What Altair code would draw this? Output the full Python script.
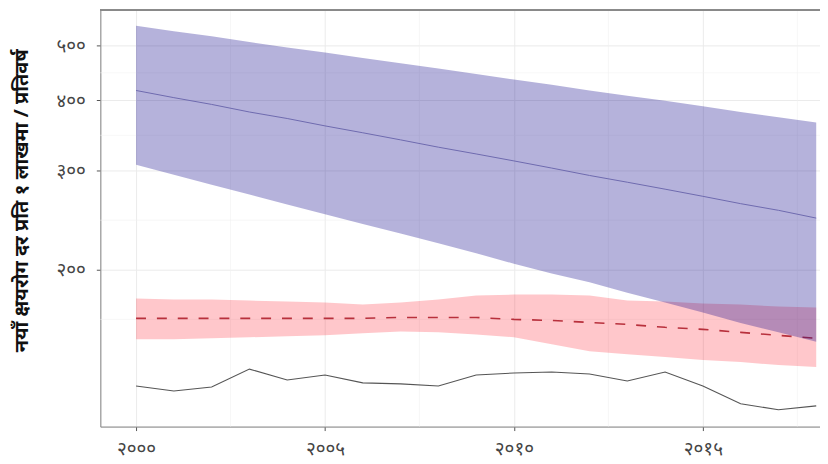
import altair as alt
import pandas as pd

# ---- data ----
years = list(range(2000, 2019))

blue_mid = [416, 404, 393, 381, 371, 360, 350, 340, 330, 321, 312, 303, 294, 286, 278, 270, 262, 255, 247]
blue_hi = [542, 530, 519, 507, 496, 486, 475, 465, 455, 445, 435, 426, 416, 407, 399, 390, 381, 373, 365]
blue_lo = [307, 295, 283, 272, 261, 251, 241, 232, 223, 214, 205, 197, 190, 182, 175, 168, 161, 155, 149]

pink_mid = [164.0, 164.0, 164.0, 164.0, 164.0, 164.0, 164.0, 164.6, 164.6, 164.6, 163.3, 162.6, 161.3,
            160.0, 158.1, 156.8, 154.9, 153.0, 151.2]
pink_hi = [177.8, 177.1, 177.1, 176.4, 175.7, 175.0, 173.5, 175.0, 177.1, 180.0, 180.7, 180.7, 180.0,
           176.4, 175.7, 174.2, 173.5, 172.1, 171.4]
pink_lo = [150.6, 150.6, 151.2, 151.8, 152.4, 153.0, 154.3, 155.5, 154.9, 153.6, 151.8, 147.6, 143.4,
           141.7, 140.0, 138.3, 137.2, 135.5, 134.4]

notified = [124.4, 121.9, 123.9, 133.3, 127.5, 130.1, 126.0, 125.5, 124.4, 130.1, 131.2, 131.7, 130.7,
            127.0, 131.7, 124.4, 115.7, 112.9, 114.7]

x_ticks = [2000, 2005, 2010, 2015]
x_tick_labels = ["२०००", "२००५", "२०१०", "२०१५"]
y_ticks = [200, 300, 400, 500]
y_tick_labels = ["२००", "३००", "४००", "५००"]
x_minor = [2002.5, 2007.5, 2012.5, 2017.5]
y_minor = [163.3, 244.9, 346.4, 447.2]

y_title = "नयाँ क्षयरोग दर प्रति १ लाखमा / प्रतिवर्ष"

# ---- layout ----
W, H = 725, 420
X_DOMAIN = [1999.054, 2018.1]
Y_DOMAIN = [105.4, 578.7]
FONT = "Noto Sans"

df = pd.DataFrame({
    "year": years, "blue_mid": blue_mid, "blue_hi": blue_hi, "blue_lo": blue_lo,
    "pink_mid": pink_mid, "pink_hi": pink_hi, "pink_lo": pink_lo, "notified": notified,
})


def label_expr(vals, labels):
    expr = "''"
    for v, l in reversed(list(zip(vals, labels))):
        expr = f"datum.value == {v} ? '{l}' : ({expr})"
    return expr


xscale = alt.Scale(domain=X_DOMAIN, nice=False, zero=False)
yscale = alt.Scale(type="log", domain=Y_DOMAIN, nice=False, zero=False)

x_axis = alt.Axis(values=x_ticks, labelExpr=label_expr(x_ticks, x_tick_labels), title=None,
                  grid=True, gridColor="#ebebeb", gridWidth=1, domainColor="#8a8a8a", domainWidth=1,
                  tickColor="#555555", tickSize=4, labelPadding=9, labelFontSize=19,
                  labelColor="#444444", labelFont=FONT)
y_axis = alt.Axis(values=y_ticks, labelExpr=label_expr(y_ticks, y_tick_labels), title=y_title,
                  grid=True, gridColor="#ebebeb", gridWidth=1, domainColor="#8a8a8a", domainWidth=1,
                  tickColor="#555555", tickSize=4, labelPadding=11, labelFontSize=19,
                  labelColor="#444444", labelFont=FONT, titleFont=FONT, titleFontSize=20,
                  titleFontWeight="bold", titleColor="#111111", titleX=-79, titleY=192,
                  titleAngle=-90, titleBaseline="middle")

base = alt.Chart(df)

xminor_df = pd.DataFrame({"x": x_minor})
yminor_df = pd.DataFrame({"y": y_minor})

vminor = alt.Chart(xminor_df).mark_rule(color="#f2f2f2", strokeWidth=0.6).encode(
    x=alt.X("x:Q", scale=xscale, axis=x_axis))
hminor = alt.Chart(yminor_df).mark_rule(color="#f2f2f2", strokeWidth=0.6).encode(
    y=alt.Y("y:Q", scale=yscale, axis=y_axis))

pink_band = base.mark_area(color="#ff0010", opacity=0.22).encode(
    x=alt.X("year:Q", scale=xscale, axis=x_axis),
    y=alt.Y("pink_lo:Q", scale=yscale, axis=y_axis),
    y2="pink_hi:Q")
pink_line = base.mark_line(color="#b8303c", strokeWidth=1.6, strokeDash=[10, 11]).encode(
    x=alt.X("year:Q", scale=xscale), y=alt.Y("pink_mid:Q", scale=yscale))
blue_band = base.mark_area(color="#10088c", opacity=0.31).encode(
    x=alt.X("year:Q", scale=xscale),
    y=alt.Y("blue_lo:Q", scale=yscale),
    y2="blue_hi:Q")
blue_line = base.mark_line(color="#6e6aae", strokeWidth=1).encode(
    x=alt.X("year:Q", scale=xscale), y=alt.Y("blue_mid:Q", scale=yscale))
black_line = base.mark_line(color="#555555", strokeWidth=1.1).encode(
    x=alt.X("year:Q", scale=xscale), y=alt.Y("notified:Q", scale=yscale))

top_border = alt.Chart(df).mark_rule(color="#8a8a8a", strokeWidth=1).encode(
    x=alt.value(0), x2=alt.value(W), y=alt.value(0.5))

chart = alt.layer(
    vminor, hminor, pink_band, pink_line, blue_band, blue_line, black_line, top_border
).properties(
    width=W, height=H,
    autosize=alt.AutoSizeParams(type="none"),
    padding={"left": 93, "top": 0, "right": 0, "bottom": 36},
).configure_view(stroke=None).configure(background="white")

chart.save("out.html", embed_options={"renderer": "svg", "actions": False})
